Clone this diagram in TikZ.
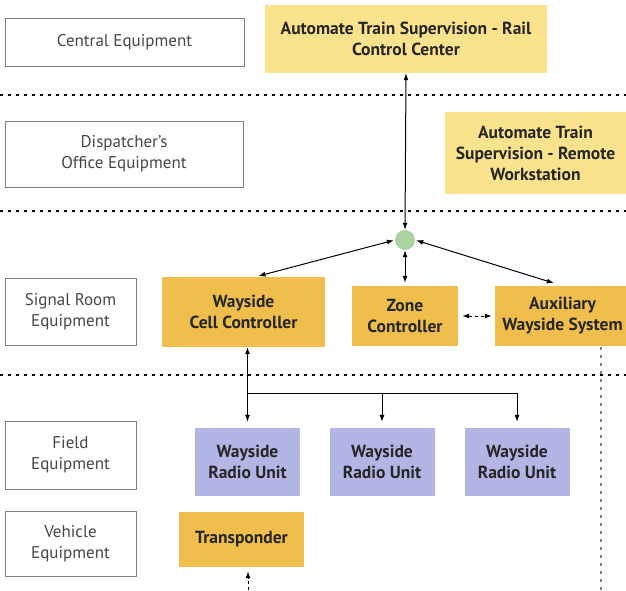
\documentclass[tikz,border=0pt]{standalone}
\usepackage{fontspec}
\setmainfont{PT Sans}
\usetikzlibrary{arrows.meta}
\definecolor{atslight}{HTML}{FBE38E}
\definecolor{eqdark}{HTML}{EFBE4D}
\definecolor{radio}{HTML}{B3B6E4}
\definecolor{hubgreen}{HTML}{A9D4A0}
\definecolor{frame}{HTML}{808080}
\definecolor{txt}{HTML}{262626}
\tikzset{
  lvl/.style={draw=frame, line width=0.8pt, fill=white, align=center,
    text=txt!85, font=\fontsize{17}{21}\selectfont, inner sep=0pt},
  unitbox/.style={align=center, text=txt, font=\bfseries\fontsize{17.5}{21}\selectfont, inner sep=0pt},
  atsbox/.style={unitbox, fill=atslight},
  gold/.style={unitbox, fill=eqdark},
  wru/.style={unitbox, fill=radio, minimum width=105pt, minimum height=68pt},
  sep/.style={line width=1.8pt, dash pattern=on 3pt off 5pt},
  link/.style={line width=1pt, {Latex[length=7pt,width=5pt]}-{Latex[length=7pt,width=5pt]}},
  oneway/.style={line width=1pt, -{Latex[length=7pt,width=5pt]}},
}
\begin{document}
\begin{tikzpicture}[x=1pt,y=-1pt]
\useasboundingbox (0,0) rectangle (626,590);
\clip (0,0) rectangle (626,590);

% level separators
\draw[sep] (0,95) -- (626,95);
\draw[sep] (0,211) -- (626,211);
\draw[sep] (0,375) -- (626,375);
\coordinate (gtop) at (601,347);
\coordinate (gbot) at (601,590);
\draw[frame, line width=1.2pt, dash pattern=on 3pt off 5pt] (gtop) -- (gbot);

% level labels
\node[lvl, minimum width=239pt, minimum height=48pt] (central) at (124.5,42) {Central Equipment};
\node[lvl, minimum width=238pt, minimum height=66pt] (dispatch) at (124,154) {Dispatcher's\\Office Equipment};
\node[lvl, minimum width=131pt, minimum height=67pt] (signal) at (70.5,311.5) {Signal Room\\Equipment};
\node[lvl, minimum width=131pt, minimum height=68pt] (field) at (70.5,455) {Field\\Equipment};
\node[lvl, minimum width=131pt, minimum height=65pt] (vehicle) at (70.5,543.5) {Vehicle\\Equipment};

% equipment
\node[atsbox, minimum width=282pt, minimum height=68pt] (rcc) at (406,39) {Automate Train Supervision - Rail\\Control Center};
\node[atsbox, minimum width=181pt, minimum height=82pt] (rws) at (535.5,153) {Automate Train\\Supervision - Remote\\Workstation};
\node[circle, fill=hubgreen, minimum size=20pt, inner sep=0pt] (hub) at (405,240) {};
\node[gold, minimum width=163pt, minimum height=70pt] (wcc) at (243.5,312) {Wayside\\Cell Controller};
\node[gold, minimum width=106pt, minimum height=60pt] (zone) at (405,316) {Zone\\Controller};
\node[gold, minimum width=135pt, minimum height=60pt] (aux) at (562.5,316) {Auxiliary\\Wayside System};
\node[wru] (wru1) at (247.5,462) {Wayside\\Radio Unit};
\node[wru] (wru2) at (382,462) {Wayside\\Radio Unit};
\node[wru] (wru3) at (517,462) {Wayside\\Radio Unit};
\node[gold, minimum width=125pt, minimum height=55pt] (trans) at (241.5,539.5) {Transponder};

% links around the hub
\draw[link] (hub.north) -- (rcc.south);
\draw[link, shorten <=1pt, shorten >=3pt] (hub.west) -- ([xshift=12pt]wcc.north);
\draw[link, shorten >=3pt] (hub.south) -- (zone.north);
\draw[link, shorten <=1pt, shorten >=9pt] (hub.east) -- (aux.north);
\draw[link, dashed, shorten <=4pt, shorten >=3pt] (zone.east) -- (aux.west);

% cell controller to radio units
\coordinate (br) at (247.5,393);
\draw[link, shorten >=6pt] (wru1.north |- wcc.south) -- (wru1.north);
\draw[line width=1pt] (br) -- (wru3.north |- br);
\draw[oneway, shorten >=6pt] (wru2.north |- br) -- (wru2.north);
\draw[oneway, shorten >=6pt] (wru3.north |- br) -- (wru3.north);

% transponder feed
\coordinate (tfeed) at (248,590);
\draw[oneway, dashed, shorten >=4pt] (tfeed) -- (tfeed |- trans.south);
\end{tikzpicture}
\end{document}
